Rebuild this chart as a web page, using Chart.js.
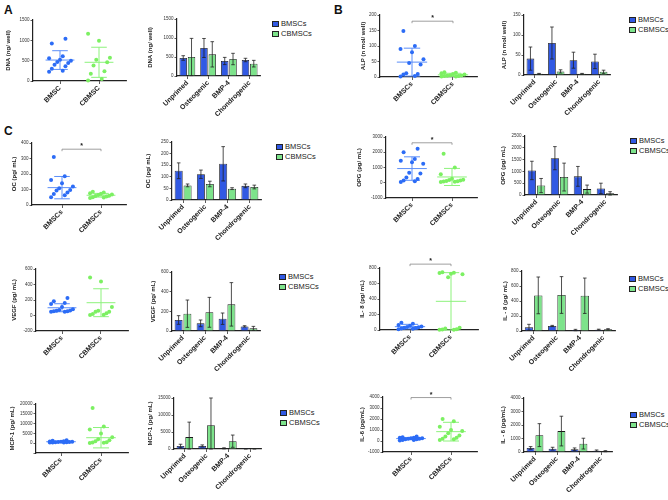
<!DOCTYPE html>
<html>
<head>
<meta charset="utf-8">
<script src="https://cdn.jsdelivr.net/npm/chart.js@4.4.0/dist/chart.umd.min.js"></script>
<style>
  body { margin: 0; width: 668px; height: 500px; background: #fff; position: relative; overflow: hidden;
         font-family: "Liberation Sans", Arial, sans-serif; }
  .panel { position: absolute; font-weight: bold; font-size: 12px; color: #111; }
  .leg { position: absolute; font-size: 7.5px; color: #222; white-space: nowrap; line-height: 8px; }
  .leg i { position: absolute; left: 0; top: 1px; width: 5px; height: 4px; border: 1px solid #222; }
  .leg span { position: absolute; left: 9px; top: 0; }
</style>
</head>
<body>
<div class="panel" style="left:4px;top:3px">A</div>
<div class="panel" style="left:334px;top:3px">B</div>
<div class="panel" style="left:4px;top:124px">C</div>
<script>
const groups = ['BMSCs', 'CBMSCs'];
const dnaGroups = ['BMSC', 'CBMSC'];
const primings = ['Unprimed', 'Osteogenic', 'BMP-4', 'Chondrogenic'];

// individual donors (scatter) + mean / SD lines
const dnaBM = [1040, 920, 610, 560, 520, 500, 470, 440, 400, 360, 300, 250, 230];
const dnaCB = [1160, 990, 570, 520, 460, 380, 240, 180, 50, 10];
const dnaMean = [515, 460], dnaSD = [230, 370];

const alpBM = [148, 100, 90, 80, 57, 45, 40, 12, 10, 8, 3, 2];
const alpCB = [15, 14, 12, 10, 8, 6, 5, 4, 3, 3, 2, 2];
const alpMean = [48, 7], alpSD = [45, 5];

const ocBM = [309, 185, 162, 140, 119, 108, 97, 93, 80, 71, 63, 50];
const ocCB = [85, 80, 76, 72, 68, 65, 60, 58, 55, 50, 48, 45];
const ocMean = [112, 63], ocSD = [72, 12];

const opgBM = [2230, 2000, 1550, 1450, 1350, 1250, 650, 600, 350, 250, 150, 100, 50];
const opgCB = [1900, 1000, 550, 260, 200, 180, 150, 120, 100, 80, 60, 50];
const opgMean = [930, 380], opgSD = [770, 560];

const vegfBM = [225, 185, 160, 150, 110, 80, 70, 60, 55, 50, 50, 55, 65];
const vegfCB = [490, 440, 110, 60, 50, 30, 50, 10, 5, 20];
const vegfMean = [100, 165], vegfSD = [52, 180];

const il8BM = [95, 80, 65, 55, 45, 40, 35, 30, 25, 20, 15, 10];
const il8CB = [745, 740, 735, 725, 720, 680, 30, 20, 10, 5, 3, 2];
const il8Mean = [43, 370], il8SD = [30, 370];

const mcpBM = [1500, 1200, 1000, 900, 800, 700, 600, 600, 500, 500, 400, 400, 300];
const mcpCB = [18000, 8500, 7000, 5000, 3000, 2000, 1500, 1000, 500, 300, 200, 100];
const mcpMean = [750, 2800], mcpSD = [350, 5200];

const il6BM = [400, 350, 300, 300, 250, 250, 200, 200, 150, 150, 100, 100, 50];
const il6CB = [2000, 1800, 1300, 1000, 900, 700, 500, 400, 300, 200, 150, 100];
const il6Mean = [220, 850], il6SD = [100, 850];

// primed groups (bars) mean and SD
const dnaBarBM = [474, 737, 395, 421], dnaErrBM = [60, 250, 95, 45];
const dnaBarCB = [500, 570, 447, 325], dnaErrCB = [490, 333, 150, 87];
const alpBarBM = [41, 80, 37, 34], alpErrBM = [29, 40, 20, 18];
const alpBarCB = [3, 9, 3, 8], alpErrCB = [1, 4, 1, 4];
const ocBarBM = [126, 111, 156, 61], ocErrBM = [34, 18, 74, 8];
const ocBarCB = [63, 69, 49, 56], ocErrCB = [6, 12, 4, 8];
const opgBarBM = [1040, 1560, 790, 280], opgErrBM = [390, 490, 420, 220];
const opgBarCB = [400, 760, 250, 70], opgErrCB = [300, 590, 170, 70];
const vegfBarBM = [112, 78, 125, 47], vegfErrBM = [44, 34, 58, 7];
const vegfBarCB = [176, 190, 271, 27], vegfErrCB = [139, 152, 221, 20];
const il8BarBM = [49, 67, 13, 18], il8ErrBM = [40, 8, 9, 6];
const il8BarCB = [475, 480, 470, 22], il8ErrCB = [245, 245, 236, 9];
const mcpBarBM = [900, 900, 200, 50], mcpErrBM = [500, 300, 150, 30];
const mcpBarCB = [3500, 7000, 2300, 50], mcpErrCB = [4400, 8000, 1800, 30];
const il6BarBM = [300, 250, 200, 100], il6ErrBM = [100, 100, 100, 50];
const il6BarCB = [1250, 1550, 620, 60], il6ErrCB = [850, 1100, 400, 40];

const F = "'Liberation Sans', Arial, sans-serif";
const dotCol = ['#2c6cf6', '#7cf062'];
const lineCol = ['#5c8ef8', '#8df27c'];
const barCol = ['#3159e3', '#7de38b'];

function jitter(vals) {
  const order = vals.map((v, i) => i).sort((a, b) => vals[a] - vals[b]);
  const off = [];
  order.forEach((idx, r) => { off[idx] = (((r * 5) % 9) - 4) * 0.07; });
  return off;
}

const statsPlugin = {
  id: 'stats',
  beforeDatasetsDraw(chart, args, o) {
    if (!o.mean) return;
    const { ctx, scales: { x, y } } = chart;
    ctx.save();
    ctx.lineWidth = 1;
    o.mean.forEach((m, g) => {
      const s = o.sd[g], xc = x.getPixelForValue(g);
      const hw = x.getPixelForValue(g + 0.37) - xc, cw = x.getPixelForValue(g + 0.2) - xc;
      const ym = y.getPixelForValue(m), yt = y.getPixelForValue(m + s), yb = y.getPixelForValue(m - s);
      ctx.strokeStyle = lineCol[g];
      ctx.beginPath();
      ctx.moveTo(xc - hw, ym); ctx.lineTo(xc + hw, ym);
      ctx.moveTo(xc - cw, yt); ctx.lineTo(xc + cw, yt);
      ctx.moveTo(xc - cw, yb); ctx.lineTo(xc + cw, yb);
      ctx.moveTo(xc, yt); ctx.lineTo(xc, yb);
      ctx.stroke();
    });
    if (o.sig != null) {
      const x0 = x.getPixelForValue(0), x1 = x.getPixelForValue(1), ys = y.getPixelForValue(o.sig);
      ctx.strokeStyle = '#888';
      ctx.lineWidth = 0.8;
      ctx.beginPath();
      ctx.moveTo(x0, ys + 2); ctx.lineTo(x0, ys); ctx.lineTo(x1, ys); ctx.lineTo(x1, ys + 2);
      ctx.stroke();
      ctx.fillStyle = '#222';
      ctx.font = 'bold 7px ' + F;
      ctx.textAlign = 'center';
      ctx.fillText('*', (x0 + x1) / 2, ys - 1);
    }
    ctx.restore();
  }
};

const errPlugin = {
  id: 'errbars',
  afterDatasetsDraw(chart) {
    const { ctx, scales: { y } } = chart;
    ctx.save();
    ctx.strokeStyle = '#222';
    ctx.lineWidth = 0.8;
    chart.data.datasets.forEach((ds, i) => {
      if (!ds.err) return;
      chart.getDatasetMeta(i).data.forEach((bar, j) => {
        const v = ds.data[j], e = ds.err[j];
        const yt = y.getPixelForValue(v + e), yb = y.getPixelForValue(Math.max(v - e, 0));
        ctx.beginPath();
        ctx.moveTo(bar.x, yt); ctx.lineTo(bar.x, yb);
        ctx.moveTo(bar.x - 1.8, yt); ctx.lineTo(bar.x + 1.8, yt);
        ctx.moveTo(bar.x - 1.8, yb); ctx.lineTo(bar.x + 1.8, yb);
        ctx.stroke();
      });
    });
    ctx.restore();
  }
};

const dots = [
  { cats: dnaGroups, a: dnaBM, b: dnaCB, mean: dnaMean, sd: dnaSD, sig: null, title: 'DNA (ng/ well)', min: 0, max: 1500, step: 500,
    box: { ax: 33, top: 20, right: 126, bottom: 81, yW: 28, t0: 60, t1: 99 } },
  { cats: groups, a: alpBM, b: alpCB, mean: alpMean, sd: alpSD, sig: 180, title: 'ALP (n mol/ well)', min: 0, max: 200, step: 50,
    box: { ax: 380, top: 15, right: 477, bottom: 77, yW: 20, t0: 412, t1: 453 } },
  { cats: groups, a: ocBM, b: ocCB, mean: ocMean, sd: ocSD, sig: 360, title: 'OC (pg/ mL)', min: 0, max: 400, step: 100,
    box: { ax: 32, top: 143, right: 126, bottom: 205, yW: 21, t0: 62, t1: 101 } },
  { cats: groups, a: opgBM, b: opgCB, mean: opgMean, sd: opgSD, sig: 2620, title: 'OPG (pg/ mL)', min: -1000, max: 3000, step: 1000,
    box: { ax: 386, top: 137, right: 477, bottom: 198, yW: 30, t0: 412, t1: 452 } },
  { cats: groups, a: vegfBM, b: vegfCB, mean: vegfMean, sd: vegfSD, sig: null, title: 'VEGF (pg/ mL)', min: -200, max: 600, step: 200,
    box: { ax: 36, top: 269, right: 128, bottom: 331, yW: 25, t0: 62, t1: 101 } },
  { cats: groups, a: il8BM, b: il8CB, mean: il8Mean, sd: il8SD, sig: 850, title: 'IL- 8 (pg/ mL)', min: 0, max: 800, step: 200,
    box: { ax: 380, top: 268, right: 478, bottom: 330, yW: 21, t0: 410, t1: 451 } },
  { cats: groups, a: mcpBM, b: mcpCB, mean: mcpMean, sd: mcpSD, sig: null, title: 'MCP-1 (pg/ mL)', min: -5000, max: 20000, step: 5000,
    hideNeg: true, box: { ax: 36, top: 404, right: 128, bottom: 453, yW: 27, t0: 61, t1: 101 } },
  { cats: groups, a: il6BM, b: il6CB, mean: il6Mean, sd: il6SD, sig: 3950, title: 'IL-6 (pg/mL)', min: -1000, max: 4000, step: 1000,
    box: { ax: 383, top: 397, right: 477, bottom: 452, yW: 24, t0: 411, t1: 451 } }
];

const bars = [
  { a: dnaBarBM, ae: dnaErrBM, b: dnaBarCB, be: dnaErrCB, title: 'DNA (ng/ well)', min: 0, max: 1500, step: 500,
    box: { ax: 177, top: 19, right: 260, bottom: 76, yW: 30 }, leg: [272, 20] },
  { a: alpBarBM, ae: alpErrBM, b: alpBarCB, be: alpErrCB, title: 'ALP (n mol/ well)', min: 0, max: 150, step: 50,
    box: { ax: 524, top: 15, right: 610, bottom: 75, yW: 23 }, leg: [629, 16] },
  { a: ocBarBM, ae: ocErrBM, b: ocBarCB, be: ocErrCB, title: 'OC (pg/ mL)', min: 0, max: 250, step: 50,
    box: { ax: 172, top: 142, right: 261, bottom: 200, yW: 27 }, leg: [276, 143] },
  { a: opgBarBM, ae: opgErrBM, b: opgBarCB, be: opgErrCB, title: 'OPG (pg/ mL)', min: 0, max: 2500, step: 500,
    box: { ax: 525, top: 136, right: 617, bottom: 195, yW: 25 }, leg: [630, 137] },
  { a: vegfBarBM, ae: vegfErrBM, b: vegfBarCB, be: vegfErrCB, title: 'VEGF (pg/ mL)', min: 0, max: 600, step: 200,
    box: { ax: 172, top: 272, right: 260, bottom: 331, yW: 22 }, leg: [279, 273] },
  { a: il8BarBM, ae: il8ErrBM, b: il8BarCB, be: il8ErrCB, title: 'IL - 8 (pg/ mL)', min: 0, max: 800, step: 200,
    box: { ax: 522, top: 271, right: 615, bottom: 331, yW: 20 }, leg: [629, 275] },
  { a: mcpBarBM, ae: mcpErrBM, b: mcpBarCB, be: mcpErrCB, title: 'MCP-1 (pg/ mL)', min: 0, max: 15000, step: 5000,
    box: { ax: 174, top: 398, right: 261, bottom: 449, yW: 27 }, leg: [280, 409] },
  { a: il6BarBM, ae: il6ErrBM, b: il6BarCB, be: il6ErrCB, title: 'IL - 6 (pg/mL)', min: 0, max: 4000, step: 1000,
    box: { ax: 524, top: 398, right: 612, bottom: 452, yW: 24 }, leg: [630, 411] }
];

const PT = 12, PR = 4, XH = 45;

function canvasFor(b) {
  const cv = document.createElement('canvas');
  const W = b.yW + (b.right - b.ax) + PR, H = PT + (b.bottom - b.top) + XH;
  cv.width = W; cv.height = H;
  cv.style.cssText = `position:absolute;left:${b.ax - b.yW}px;top:${b.top - PT}px;width:${W}px;height:${H}px`;
  document.body.appendChild(cv);
  return cv;
}

function yScale(c) {
  return {
    min: c.min, max: c.max,
    ticks: { stepSize: c.step, autoSkip: false, font: { size: 4.5, family: F }, color: '#333', padding: 1,
             callback: v => (c.hideNeg && v < 0) ? '' : String(v) },
    title: { display: true, text: c.title, font: { size: 6, weight: 'bold', family: F }, color: '#222', padding: 0 },
    grid: { drawOnChartArea: false, tickLength: 2.5, color: '#333', lineWidth: 0.8 },
    border: { color: '#222', width: 1.2 },
    afterFit: s => { s.width = c.box.yW; }
  };
}

function xCommon() {
  return {
    ticks: { minRotation: 45, maxRotation: 45, autoSkip: false, font: { size: 7, weight: 'bold', family: F }, color: '#222', padding: 0 },
    grid: { drawOnChartArea: false, offset: false, tickLength: 3, color: '#333', lineWidth: 0.8 },
    border: { color: '#222', width: 1.2 },
    afterFit: s => { s.height = XH; }
  };
}

const base = {
  responsive: false, animation: false, events: [],
  layout: { padding: { top: PT, right: PR, left: 0, bottom: 0 } }
};

dots.forEach(c => {
  const b = c.box, unit = b.t1 - b.t0;
  const x = xCommon();
  x.type = 'linear';
  x.min = -(b.t0 - b.ax) / unit;
  x.max = 1 + (b.right - b.t1) / unit;
  x.afterBuildTicks = s => { s.ticks = [{ value: 0 }, { value: 1 }]; };
  x.ticks.callback = v => c.cats[v];
  new Chart(canvasFor(b), {
    type: 'scatter',
    data: {
      datasets: [c.a, c.b].map((vals, g) => {
        const off = jitter(vals);
        return {
          data: vals.map((v, i) => ({ x: g + off[i], y: v })),
          backgroundColor: dotCol[g], borderWidth: 0, pointRadius: 2, clip: 4
        };
      })
    },
    options: Object.assign({}, base, {
      plugins: { legend: { display: false }, tooltip: { enabled: false },
                 stats: { mean: c.mean, sd: c.sd, sig: c.sig } },
      scales: { x: x, y: yScale(c) }
    }),
    plugins: [statsPlugin]
  });
});

bars.forEach(c => {
  const x = xCommon();
  x.type = 'category';
  new Chart(canvasFor(c.box), {
    type: 'bar',
    data: {
      labels: primings,
      datasets: [[c.a, c.ae], [c.b, c.be]].map(([v, e], g) => ({
        label: groups[g], data: v, err: e,
        backgroundColor: barCol[g], borderColor: '#1a1a1a', borderWidth: 0.8
      }))
    },
    options: Object.assign({}, base, {
      plugins: { legend: { display: false }, tooltip: { enabled: false } },
      scales: { x: x, y: yScale(c) }
    }),
    plugins: [errPlugin]
  });
  groups.forEach((name, g) => {
    const d = document.createElement('div');
    d.className = 'leg';
    d.style.left = c.leg[0] + 'px';
    d.style.top = (c.leg[1] + g * 10) + 'px';
    d.innerHTML = `<i style="background:${barCol[g]}"></i><span>${name}</span>`;
    document.body.appendChild(d);
  });
});
</script>
</body>
</html>
